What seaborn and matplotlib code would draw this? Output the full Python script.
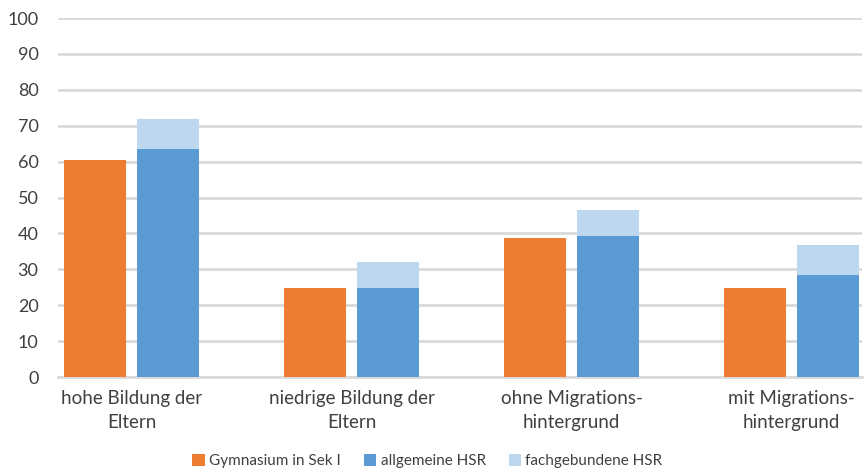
"""Grouped/stacked bar chart: Gymnasium vs. HSR by parental education and migration."""

import matplotlib

matplotlib.use("Agg")
import matplotlib.pyplot as plt
import pandas as pd
import seaborn as sns
from matplotlib.patches import Patch

# --- Data ---
categories = [
    "hohe Bildung der\nEltern",
    "niedrige Bildung der\nEltern",
    "ohne Migrations-\nhintergrund",
    "mit Migrations-\nhintergrund",
]
gymnasium = [60.5, 24.7, 38.8, 24.9]
allgemeine_hsr = [63.6, 24.9, 39.3, 28.4]
fachgebundene_hsr = [8.2, 7.1, 7.1, 8.4]
legend_labels = ["Gymnasium in Sek I", "allgemeine HSR", "fachgebundene HSR"]

# --- Colors ---
_ORANGE = "#ED7D31"
_BLUE = "#5B9BD5"
_LIGHT = "#BDD7EE"
_GRID = "#D9D9D9"
_TEXT = "#404040"

hsr_total = [a + f for a, f in zip(allgemeine_hsr, fachgebundene_hsr)]

df_total = pd.DataFrame(
    {
        "cat": categories * 2,
        "serie": ["gym"] * 4 + ["hsr"] * 4,
        "value": gymnasium + hsr_total,
    }
)
df_base = pd.DataFrame(
    {
        "cat": categories * 2,
        "serie": ["gym"] * 4 + ["hsr"] * 4,
        "value": gymnasium + allgemeine_hsr,
    }
)

sns.set_style("white")
plt.rcParams["font.family"] = ["Lato", "DejaVu Sans"]

fig = plt.figure(figsize=(8.67, 4.74), dpi=100)
ax = fig.add_axes([0.0669, 0.2046, 0.9273, 0.7574])

common = dict(x="cat", y="value", hue="serie", width=0.664, gap=0.15,
              saturation=1, legend=False, ax=ax, errorbar=None)
sns.barplot(data=df_total, palette={"gym": _ORANGE, "hsr": _LIGHT}, **common)
sns.barplot(data=df_base, palette={"gym": _ORANGE, "hsr": _BLUE}, **common)
for p in ax.patches:
    p.set_edgecolor("none")
    p.set_zorder(3)

ax.set_ylim(0, 100)
ax.set_xlim(-0.334, 3.32)
ax.set_yticks(range(0, 101, 10))
ax.yaxis.grid(True, color=_GRID, linewidth=2, zorder=0)
ax.set_axisbelow(True)
for side in ["top", "right", "left"]:
    ax.spines[side].set_visible(False)
ax.spines["bottom"].set_color(_GRID)
ax.spines["bottom"].set_linewidth(2)
ax.set_xlabel("")
ax.set_ylabel("")
ax.tick_params(axis="y", length=0, pad=14, labelsize=13, labelcolor=_TEXT)
ax.tick_params(axis="x", length=0, pad=9, labelsize=13.5, labelcolor=_TEXT)
for t in ax.get_xticklabels():
    t.set_multialignment("center")
    t.set_linespacing(1.55)

handles = [Patch(facecolor=c, edgecolor="none") for c in (_ORANGE, _BLUE, _LIGHT)]
fig.legend(
    handles,
    legend_labels,
    loc="center",
    bbox_to_anchor=(0.493, 0.027),
    ncol=3,
    frameon=False,
    fontsize=11,
    handlelength=0.8,
    handleheight=0.8,
    handletextpad=0.3,
    columnspacing=1.5,
    labelcolor=_TEXT,
)

fig.savefig("out.png", dpi=100)
